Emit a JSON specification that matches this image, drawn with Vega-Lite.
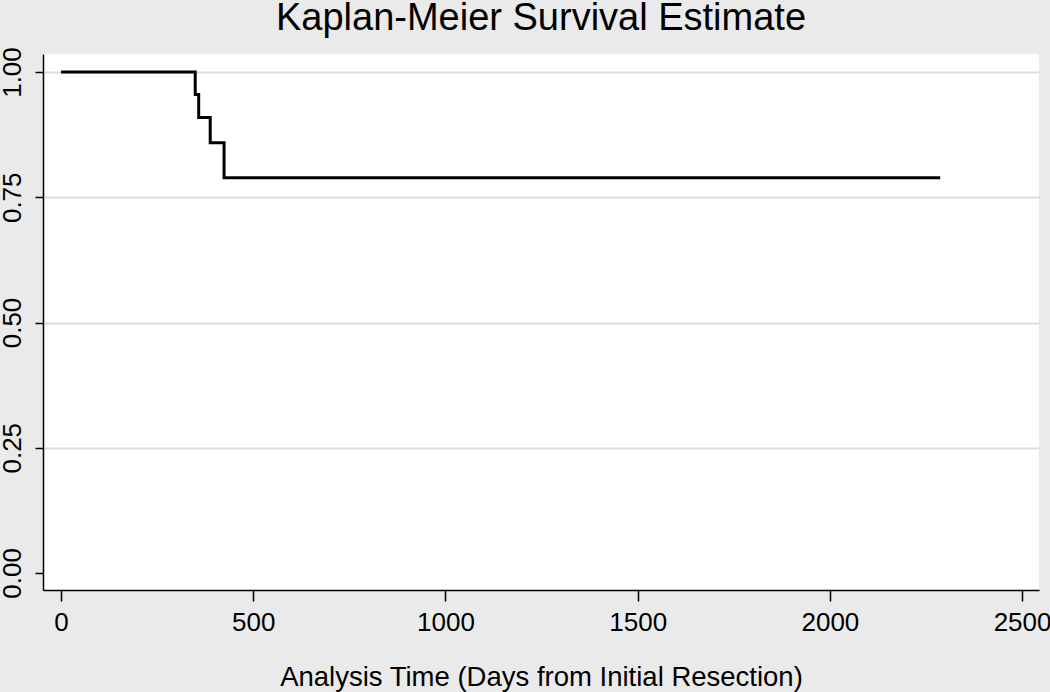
{
  "$schema": "https://vega.github.io/schema/vega-lite/v6.json",
  "width": 996,
  "height": 536,
  "autosize": {"type": "none"},
  "padding": {"left": 43, "top": 54, "right": 11, "bottom": 102},
  "background": "#eaeaea",
  "config": {
    "font": "Liberation Sans",
    "view": {"fill": "white", "stroke": null}
  },
  "title": {
    "text": "Kaplan-Meier Survival Estimate",
    "font": "Liberation Sans",
    "fontSize": 38,
    "fontWeight": "normal",
    "color": "#000000",
    "anchor": "middle",
    "offset": 9
  },
  "data": {
    "values": [
      {"time": 0, "survival": 1.0},
      {"time": 349, "survival": 0.955},
      {"time": 358, "survival": 0.909},
      {"time": 388, "survival": 0.859},
      {"time": 424, "survival": 0.789},
      {"time": 2287, "survival": 0.789}
    ]
  },
  "mark": {"type": "line", "interpolate": "step-after", "color": "#000000", "strokeWidth": 3},
  "encoding": {
    "x": {
      "field": "time",
      "type": "quantitative",
      "scale": {"domain": [-47, 2544], "nice": false, "zero": false},
      "axis": {
        "title": "Analysis Time (Days from Initial Resection)",
        "titleFont": "Liberation Sans",
        "titleFontSize": 27.5,
        "titleFontWeight": "normal",
        "titleColor": "#000000",
        "titlePadding": 28,
        "values": [0, 500, 1000, 1500, 2000, 2500],
        "format": "d",
        "labelFontSize": 26,
        "labelColor": "#000000",
        "labelPadding": 8,
        "labelFlush": false,
        "labelOverlap": false,
        "tickSize": 11,
        "tickColor": "#000000",
        "tickWidth": 1.5,
        "domainColor": "#000000",
        "domainWidth": 1.5,
        "grid": false
      }
    },
    "y": {
      "field": "survival",
      "type": "quantitative",
      "scale": {"domain": [-0.034, 1.036], "nice": false, "zero": false},
      "axis": {
        "title": null,
        "values": [0, 0.25, 0.5, 0.75, 1],
        "format": ".2f",
        "labelAngle": -90,
        "labelAlign": "center",
        "labelBaseline": "bottom",
        "labelFontSize": 26,
        "labelColor": "#000000",
        "labelPadding": 10,
        "labelFlush": false,
        "labelOverlap": false,
        "tickSize": 8,
        "tickColor": "#000000",
        "tickWidth": 1.5,
        "domainColor": "#000000",
        "domainWidth": 1.5,
        "grid": true,
        "gridColor": "#dcdcdc",
        "gridWidth": 2,
        "gridOpacity": {"condition": {"test": "datum.value === 0", "value": 0}, "value": 1}
      }
    }
  }
}
